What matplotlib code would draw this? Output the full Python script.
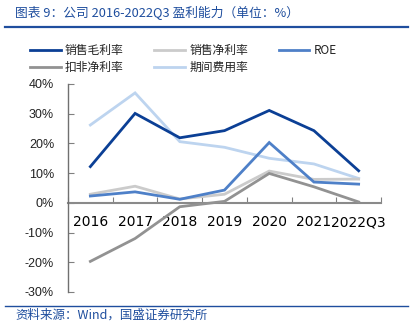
import matplotlib
matplotlib.use("Agg")
import matplotlib.pyplot as plt
from matplotlib.lines import Line2D

categories = ["2016", "2017", "2018", "2019", "2020", "2021", "2022Q3"]
gross_margin = [12.2, 30.1, 21.9, 24.3, 31.1, 24.3, 10.8]
net_margin = [2.9, 5.6, 1.3, 2.9, 10.7, 7.9, 8.0]
roe = [2.3, 3.7, 1.2, 4.3, 20.3, 7.0, 6.3]
deducted_net_margin = [-19.7, -12.0, -1.3, 0.5, 9.9, 5.4, 0.3]
expense_ratio = [26.2, 37.0, 20.6, 18.7, 15.0, 13.1, 8.2]
yticks = [-30, -20, -10, 0, 10, 20, 30, 40]

W, H = 411, 332
fig = plt.figure(figsize=(W / 100, H / 100), dpi=100)
ax = fig.add_axes([68 / W, 1 - 292 / H, (381 - 68) / W, (292 - 84) / H])

cjk = ["Noto Sans CJK SC", "DejaVu Sans"]
num_font = "Liberation Sans"

x = list(range(len(categories)))
series = [
    ("销售毛利率", gross_margin, "#0B3F95"),
    ("扣非净利率", deducted_net_margin, "#929292"),
    ("销售净利率", net_margin, "#CBCBCB"),
    ("期间费用率", expense_ratio, "#BDD4EF"),
    ("ROE", roe, "#4E80C8"),
]
draw_order = ["期间费用率", "销售净利率", "扣非净利率", "ROE", "销售毛利率"]
handles = {}
for name, vals, col in series:
    (ln,) = ax.plot(x, vals, color=col, lw=2.0, solid_joinstyle="miter", label=name,
                    zorder=3 + draw_order.index(name))
    handles[name] = ln

ax.set_xlim(-0.5, len(categories) - 0.5)
ax.set_ylim(-30, 40)
ax.set_yticks(yticks)
ax.set_yticklabels([f"{v}%" for v in yticks], fontfamily=num_font, fontsize=9, color="#222222")
ax.set_xticks([i - 0.5 for i in range(len(categories) + 1)])
ax.set_xticklabels([])
ax.set_xticks(x, minor=True)
ax.set_xticklabels(categories, minor=True, fontfamily=num_font, fontsize=8.6, color="#222222")
ax.tick_params(axis="x", which="major", direction="in", length=4, color="#808080")
ax.tick_params(axis="x", which="minor", length=0, pad=9)
ax.tick_params(axis="y", direction="in", length=4, color="#808080", pad=10)

for s in ["top", "right"]:
    ax.spines[s].set_visible(False)
ax.spines["bottom"].set_position(("data", 0))
ax.spines["bottom"].set_color("#8a8a8a")
ax.spines["bottom"].set_linewidth(1.5)
ax.spines["left"].set_color("#707070")
ax.spines["left"].set_linewidth(1.0)
ax.spines["bottom"].set_zorder(2)

order = ["销售毛利率", "扣非净利率", "销售净利率", "期间费用率", "ROE"]
leg = fig.legend([handles[n] for n in order], order, loc="upper left",
                 bbox_to_anchor=(30 / W, 1 - 44 / H), ncol=3, frameon=False,
                 borderpad=0, borderaxespad=0, handlelength=2.6, handletextpad=0.35,
                 columnspacing=2.6, labelspacing=0.35,
                 prop={"family": cjk, "size": 8.5})
for t in leg.get_texts():
    t.set_color("#222222")

title_col = "#1F4E9E"
fig.text(15 / W, 1 - 13 / H, "图表 9：公司 2016-2022Q3 盈利能力（单位：%）",
         fontsize=9.2, color=title_col, family=cjk, style="italic",
         va="center", ha="left")
fig.add_artist(Line2D([5 / W, 408 / W], [1 - 27 / H, 1 - 27 / H], color=title_col, lw=1.6))
fig.add_artist(Line2D([5 / W, 408 / W], [1 - 306 / H, 1 - 306 / H], color=title_col, lw=1.0))
fig.text(15 / W, 1 - 315 / H, "资料来源：Wind，国盛证券研究所",
         fontsize=9, color=title_col, family=cjk, style="italic",
         va="center", ha="left")

fig.savefig("out.png", dpi=100)
